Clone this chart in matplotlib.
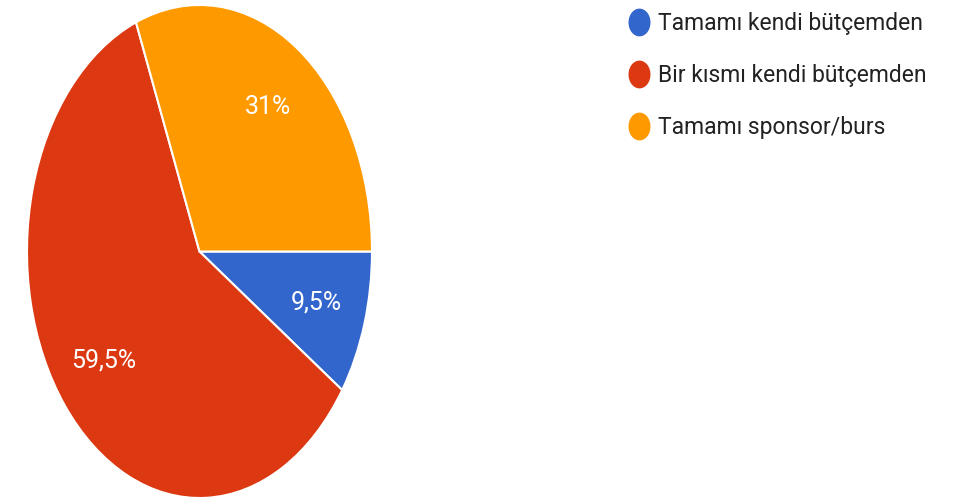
import numpy as np
import matplotlib.pyplot as plt
from matplotlib.lines import Line2D
from matplotlib.path import Path
from matplotlib.transforms import Affine2D

plt.rcParams['font.family'] = ['Roboto', 'DejaVu Sans']

# answer shares (percent)
labels = ['Tamamı kendi bütçemden', 'Bir kısmı kendi bütçemden', 'Tamamı sponsor/burs']
values = [9.5, 59.5, 31]
colors = ['#3366cc', '#dc3912', '#ff9900']


def pct_fmt(p):
    s = f'{p:.1f}'
    if s.endswith('.0'):
        s = s[:-2]
    return s.replace('.', ',') + '%'


fig = plt.figure(figsize=(9.72, 5.04), dpi=100)
# the screenshot is squeezed, so the pie is drawn as an ellipse
ax = fig.add_axes([27 / 972, 6 / 504, 345 / 972, 493 / 504])
wedges, texts, autotexts = ax.pie(values, colors=colors, startangle=0, counterclock=False,
                                  autopct=pct_fmt, pctdistance=0.71,
                                  wedgeprops=dict(edgecolor='white', linewidth=1.5),
                                  textprops=dict(color='white', fontsize=18))
ax.set_aspect('auto')
ax.set_xlim(-1, 1)
ax.set_ylim(-1, 1)

# tall oval legend markers
oval = Path.unit_circle().transformed(Affine2D().scale(0.78, 1.0))
handles = [Line2D([], [], linestyle='none', marker=oval, markersize=19,
                  markerfacecolor=c, markeredgecolor=c) for c in colors]
fig.legend(handles, labels, loc='upper left', bbox_to_anchor=(618 / 972, 1.0 - 3 / 504),
           frameon=False, fontsize=16.5, labelcolor='#222222',
           handlelength=1.0, handletextpad=0.35, labelspacing=1.27, borderaxespad=0.0)

fig.savefig('out.png', dpi=100)
